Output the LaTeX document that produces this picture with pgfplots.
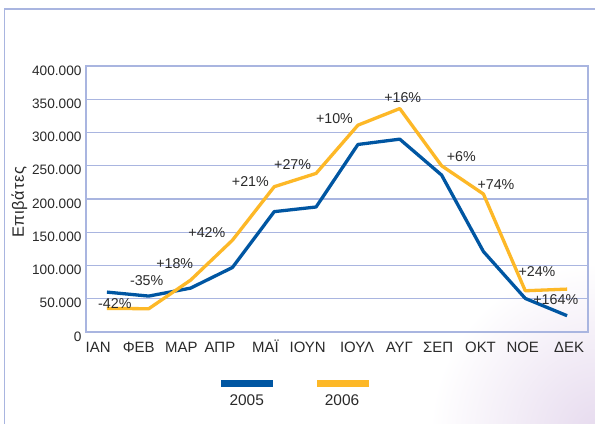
\documentclass[border=0pt]{standalone}
\usepackage{pgfplots}
\pgfplotsset{compat=1.18}
\usepackage{fontspec}
\setmainfont{Liberation Sans}
\definecolor{blueline}{HTML}{0056A2}
\definecolor{yellowline}{HTML}{FDB827}
\definecolor{gridc}{HTML}{A9B5E0}
\definecolor{txt}{HTML}{2A2A2A}
\definecolor{lav}{HTML}{E6DAEE}
\pgfplotstableread{
x y
0 60000
1 54000
2 66000
3 97000
4 181000
5 188000
6 282000
7 290000
8 236000
9 121000
10 50500
11 24500
}\tablefive
\pgfplotstableread{
x y
0 35500
1 35000
2 78000
3 138000
4 218500
5 238500
6 311000
7 336000
8 250000
9 207500
10 62000
11 64500
}\tablesix
\begin{document}
\begin{tikzpicture}[x=1bp,y=1bp]
\useasboundingbox (0,0) rectangle (595,423);
\fill[white] (0,0) rectangle (595,423);
\begin{scope}
\clip (0,0) rectangle (595,423);
\shade[inner color=lav, outer color=white] (600,-10) circle (170);
\end{scope}
\draw[gridc, line width=1.2bp] (4.5,-2) -- (4.5,414) -- (600,414);
\begin{axis}[
  at={(86bp,91bp)}, anchor=south west,
  scale only axis, width=502bp, height=266bp,
  xmin=-0.5, xmax=11.5, ymin=0, ymax=400000,
  xtick={-0.21,0.76,1.78,2.70,3.79,4.80,5.98,6.99,7.92,8.93,9.94,11.05},
  xticklabels={ΙΑΝ,ΦΕΒ,ΜΑΡ,ΑΠΡ,ΜΑΪ,ΙΟΥΝ,ΙΟΥΛ,ΑΥΓ,ΣΕΠ,ΟΚΤ,ΝΟΕ,ΔΕΚ},
  ytick={0,50000,100000,150000,200000,250000,300000,350000,400000},
  yticklabels={\raisebox{-1.5bp}{0}\hspace{5bp},50.000,100.000,150.000,200.000,250.000,300.000,350.000,400.000},
  scaled y ticks=false,
  ymajorgrids,
  grid style={gridc, line width=1.2bp},
  axis line style={gridc, line width=1.2bp},
  major tick length=0pt,
  yticklabel style={font=\fontsize{13.7}{15}\selectfont, text=txt, xshift=-1bp, yshift=-4.5bp},
  xticklabel style={font=\fontsize{15}{17}\selectfont, text=txt, anchor=base, yshift=-20bp},
  /pgf/number format/assume math mode=true,
  clip=false,
]
\addplot[blueline, line width=3.3bp, line join=round] table[x=x,y=y] {\tablefive};
\addplot[yellowline, line width=3.3bp, line join=round] table[x=x,y=y] {\tablesix};
\begin{scope}[every node/.style={font=\fontsize{14.3}{16}\selectfont, text=txt, inner sep=0pt}]
\node at (axis cs:0.19,43200) {-42\%};
\node at (axis cs:0.95,77200) {-35\%};
\node at (axis cs:1.62,103000) {+18\%};
\node at (axis cs:2.39,150000) {+42\%};
\node at (axis cs:3.43,226000) {+21\%};
\node at (axis cs:4.44,252000) {+27\%};
\node at (axis cs:5.44,321000) {+10\%};
\node at (axis cs:7.07,353000) {+16\%};
\node at (axis cs:8.47,264000) {+6\%};
\node at (axis cs:9.30,221000) {+74\%};
\node at (axis cs:10.28,91000) {+24\%};
\node at (axis cs:10.73,49100) {+164\%};
\end{scope}
\end{axis}
\node[rotate=90, font=\fontsize{16.5}{19}\selectfont, text=txt, inner sep=0pt] at (19.5,220.6) {\makebox[71bp][s]{Ε\hfill π\hfill ι\hfill β\hfill ά\hfill τ\hfill ε\hfill ς}};
\draw[blueline, line width=6.7bp] (221,39.7) -- (273,39.7);
\draw[yellowline, line width=6.7bp] (317,39.7) -- (369,39.7);
\node[font=\fontsize{15.5}{17}\selectfont, text=txt] at (246.7,22.5) {2005};
\node[font=\fontsize{15.5}{17}\selectfont, text=txt] at (342,22.5) {2006};
\end{tikzpicture}
\end{document}
